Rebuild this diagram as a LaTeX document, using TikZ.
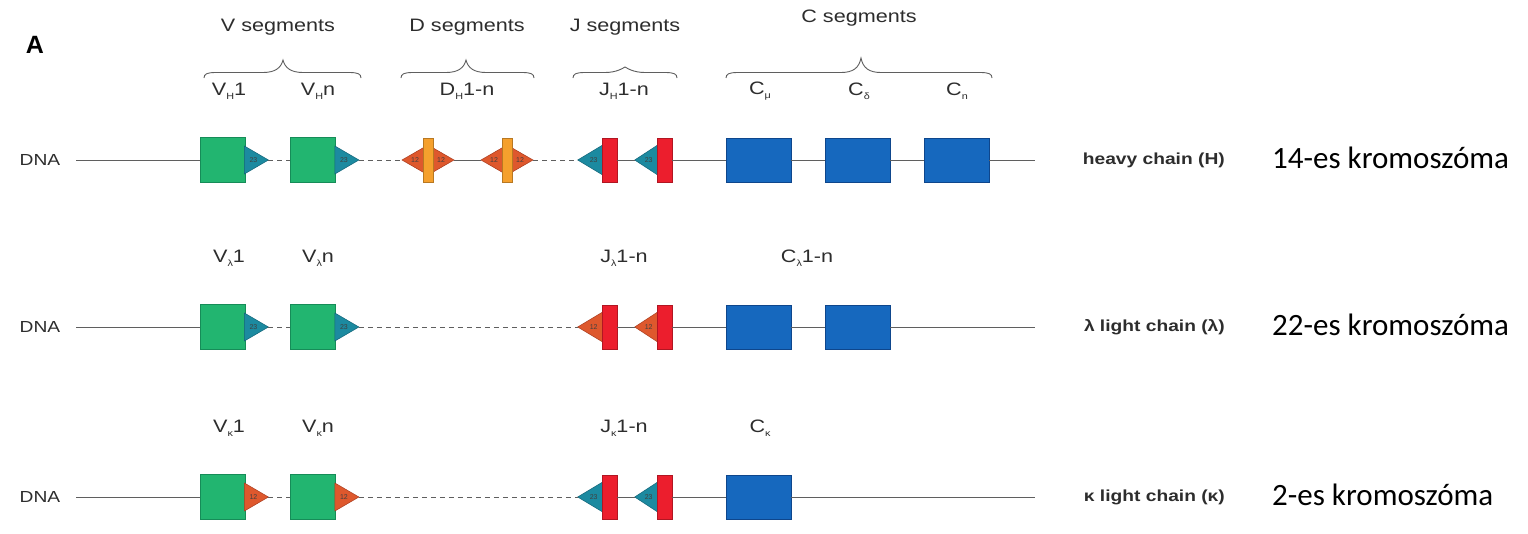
\documentclass[tikz,border=0pt]{standalone}
\usepackage{fontspec}
\setmainfont{Liberation Sans}
\newfontfamily\calib{Carlito}
\usetikzlibrary{calc}
\definecolor{vgreen}{RGB}{34,181,112}
\definecolor{vgreenD}{RGB}{22,140,88}
\definecolor{rteal}{RGB}{28,138,160}
\definecolor{rtealD}{RGB}{18,100,120}
\definecolor{rorange}{RGB}{222,88,45}
\definecolor{rorangeD}{RGB}{170,60,30}
\definecolor{dbarc}{RGB}{245,160,45}
\definecolor{jred}{RGB}{236,30,45}
\definecolor{cblue}{RGB}{22,104,190}
\definecolor{cblueD}{RGB}{14,70,140}
\definecolor{linec}{RGB}{95,95,95}
\definecolor{txtc}{RGB}{45,45,45}
\newcommand{\sx}[1]{\scalebox{1.2}[1]{#1}}
\newcommand{\sbs}[1]{\raisebox{-0.45ex}{\fontsize{9}{9}\selectfont #1}}
\newcommand{\mkV}[4]{%
  \node[vbox] (#2a) at (222.5,#1) {};
  \node[vbox] (#2b) at (313,#1) {};
  \filldraw[#3] ($(#2a.east)+(-1,-14)$) -- ($(#2a.east)+(23,0)$) coordinate (#2at) -- ($(#2a.east)+(-1,14)$) -- cycle;
  \filldraw[#3] ($(#2b.east)+(-1,-14)$) -- ($(#2b.east)+(23,0)$) coordinate (#2bt) -- ($(#2b.east)+(-1,14)$) -- cycle;
  \node[rsstxt] at ($(#2a.east)+(8,0)$) {#4};
  \node[rsstxt] at ($(#2b.east)+(8,0)$) {#4};
  \draw[dnadash] (#2at) -- (#2a.east -| #2b.west);
}
\newcommand{\mkJ}[4]{%
  \node[jbar] (#2a) at (609.5,#1) {};
  \node[jbar] (#2b) at (664.5,#1) {};
  \filldraw[#3] ($(#2a.west)+(1,-15)$) -- ($(#2a.west)+(-24,0)$) coordinate (#2at) -- ($(#2a.west)+(1,15)$) -- cycle;
  \filldraw[#3] ($(#2b.west)+(1,-15)$) -- ($(#2b.west)+(-22,0)$) coordinate (#2bt) -- ($(#2b.west)+(1,15)$) -- cycle;
  \node[jbar] at (#2a) {};
  \node[jbar] at (#2b) {};
  \node[rsstxt] at ($(#2a.west)+(-8,0)$) {#4};
  \node[rsstxt] at ($(#2b.west)+(-8,0)$) {#4};
  \draw[dna] (#2a.east) -- (#2bt);
}
\newcommand{\hbr}[4]{% x1 x2 xm peak-y
  \draw[brc] (#1,78) .. controls (#1,74) and ({#1+3},72.5) .. ({#1+12},72.5) -- ({#3-20},72.5)
    .. controls ({#3-8},72.5) and ({#3-2},68) .. (#3,#4)
    .. controls ({#3+2},68) and ({#3+8},72.5) .. ({#3+20},72.5) -- ({#2-12},72.5)
    .. controls ({#2-3},72.5) and (#2,74) .. (#2,78);
}
\begin{document}
\begin{tikzpicture}[x=1pt,y=-1pt,
  vbox/.style={draw=vgreenD, fill=vgreen, line width=0.8pt, minimum width=45pt, minimum height=45pt, inner sep=0pt},
  cbox/.style={draw=cblueD, fill=cblue, line width=0.8pt, minimum width=65pt, minimum height=44pt, inner sep=0pt},
  jbar/.style={draw=jred!75!black, fill=jred, line width=0.6pt, minimum width=15pt, minimum height=44pt, inner sep=0pt},
  dbar/.style={draw=dbarc!75!black, fill=dbarc, line width=0.6pt, minimum width=10pt, minimum height=44pt, inner sep=0pt},
  tealrss/.style={fill=rteal, draw=rtealD, line width=0.5pt},
  orrss/.style={fill=rorange, draw=rorangeD, line width=0.5pt},
  rsstxt/.style={font=\fontsize{7}{7}\selectfont, text=black!75, inner sep=0pt},
  dna/.style={draw=linec, line width=0.9pt},
  dnadash/.style={dna, dash pattern=on 5pt off 4pt},
  brc/.style={draw=linec, line width=0.9pt},
  lbl/.style={text=txtc, font=\fontsize{18}{18}\selectfont, inner sep=0pt},
  dnal/.style={text=txtc, font=\fontsize{16}{16}\selectfont, inner sep=0pt},
  chl/.style={text=txtc, font=\bfseries\fontsize{16}{16}\selectfont, inner sep=0pt, anchor=east},
  chr/.style={text=black, font=\calib\fontsize{31}{31}\selectfont, inner sep=0pt, anchor=west}]
\useasboundingbox (0,0) rectangle (1528,533);
\fill[white] (0,0) rectangle (1528,533);

% panel letter
\node[text=black, font=\bfseries\fontsize{25}{25}\selectfont, inner sep=0pt] (letA) at (35,45) {A};

% headings and braces
\node[lbl] (hv) at (278,27) {\sx{V segments}};
\node[lbl] (hd) at (467,27) {\sx{D segments}};
\node[lbl] (hj) at (625,27) {\sx{J segments}};
\node[lbl] (hc) at (859,18) {\sx{C segments}};
\hbr{204}{361}{283}{60}
\hbr{401}{534}{466}{60}
\hbr{573}{677}{625}{67}
\hbr{726}{992}{861}{58}

% ---------------- row 1: heavy chain ----------------
\node[dnal] (dna1) at (40,160) {\sx{DNA}};
\mkV{160}{vh}{tealrss}{23}
\node[lbl] at (229,91) {\sx{V\sbs{H}1}};
\node[lbl] at (318,91) {\sx{V\sbs{H}n}};
% D segments
\coordinate (d1) at (428,160);
\coordinate (d2) at (507,160);
\filldraw[orrss] ($(d1)+(-26,0)$) coordinate (d1l) -- ($(d1)+(0,-15)$) -- ($(d1)+(26,0)$) coordinate (d1r) -- ($(d1)+(0,15)$) -- cycle;
\filldraw[orrss] ($(d2)+(-26,0)$) coordinate (d2l) -- ($(d2)+(0,-15)$) -- ($(d2)+(26,0)$) coordinate (d2r) -- ($(d2)+(0,15)$) -- cycle;
\node[dbar] (db1) at (d1) {};
\node[dbar] (db2) at (d2) {};
\node[rsstxt] at ($(d1)+(-13,0)$) {12};
\node[rsstxt] at ($(d1)+(13,0)$) {12};
\node[rsstxt] at ($(d2)+(-13,0)$) {12};
\node[rsstxt] at ($(d2)+(13,0)$) {12};
\node[lbl] at (467,91) {\sx{D\sbs{H}1-n}};
\mkJ{160}{jh}{tealrss}{23}
\node[lbl] at (624,91) {\sx{J\sbs{H}1-n}};
\node[cbox] (ch1) at (758.5,160) {};
\node[cbox] (ch2) at (857.5,160) {};
\node[cbox] (ch3) at (956.5,160) {};
\node[lbl] at (760,91) {\sx{C\sbs{μ}}};
\node[lbl] at (859,91) {\sx{C\sbs{δ}}};
\node[lbl] at (957,91) {\sx{C\sbs{n}}};
\coordinate (e1) at (1035,160);
\draw[dna] ($(dna1.east)+(16,0)$) -- (vha.west);
\draw[dnadash] (vhbt) -- (d1l);
\draw[dna] (d1r) -- (d2l);
\draw[dnadash] (d2r) -- (jhat);
\draw[dna] (jhb.east) -- (ch1.west);
\draw[dna] (ch1.east) -- (ch2.west);
\draw[dna] (ch2.east) -- (ch3.west);
\draw[dna] (ch3.east) -- (e1);
\node[chl] (lab1) at (1225,160) {\sx{heavy chain (H)}};
\node[chr] (kr1) at (1272,158) {14-es kromoszóma};

% ---------------- row 2: lambda light chain ----------------
\node[dnal] (dna2) at (40,327) {\sx{DNA}};
\mkV{327}{vl}{tealrss}{23}
\node[lbl] at (229,258) {\sx{V\sbs{λ}1}};
\node[lbl] at (318,258) {\sx{V\sbs{λ}n}};
\mkJ{327}{jl}{orrss}{12}
\node[lbl] at (624,258) {\sx{J\sbs{λ}1-n}};
\node[cbox] (cl1) at (758.5,327) {};
\node[cbox] (cl2) at (857.5,327) {};
\node[lbl] at (807,258) {\sx{C\sbs{λ}1-n}};
\coordinate (e2) at (1035,327);
\draw[dna] ($(dna2.east)+(16,0)$) -- (vla.west);
\draw[dnadash] (vlbt) -- (jlat);
\draw[dna] (jlb.east) -- (cl1.west);
\draw[dna] (cl1.east) -- (cl2.west);
\draw[dna] (cl2.east) -- (e2);
\node[chl] (lab2) at (1225,327) {\sx{λ light chain (λ)}};
\node[chr] (kr2) at (1272,325) {22-es kromoszóma};

% ---------------- row 3: kappa light chain ----------------
\node[dnal] (dna3) at (40,497) {\sx{DNA}};
\mkV{497}{vk}{orrss}{12}
\node[lbl] at (229,428) {\sx{V\sbs{κ}1}};
\node[lbl] at (318,428) {\sx{V\sbs{κ}n}};
\mkJ{497}{jk}{tealrss}{23}
\node[lbl] at (624,428) {\sx{J\sbs{κ}1-n}};
\node[cbox] (ck1) at (758.5,497) {};
\node[lbl] at (760,428) {\sx{C\sbs{κ}}};
\coordinate (e3) at (1035,497);
\draw[dna] ($(dna3.east)+(16,0)$) -- (vka.west);
\draw[dnadash] (vkbt) -- (jkat);
\draw[dna] (jkb.east) -- (ck1.west);
\draw[dna] (ck1.east) -- (e3);
\node[chl] (lab3) at (1225,497) {\sx{κ light chain (κ)}};
\node[chr] (kr3) at (1272,495) {2-es kromoszóma};
\end{tikzpicture}
\end{document}
